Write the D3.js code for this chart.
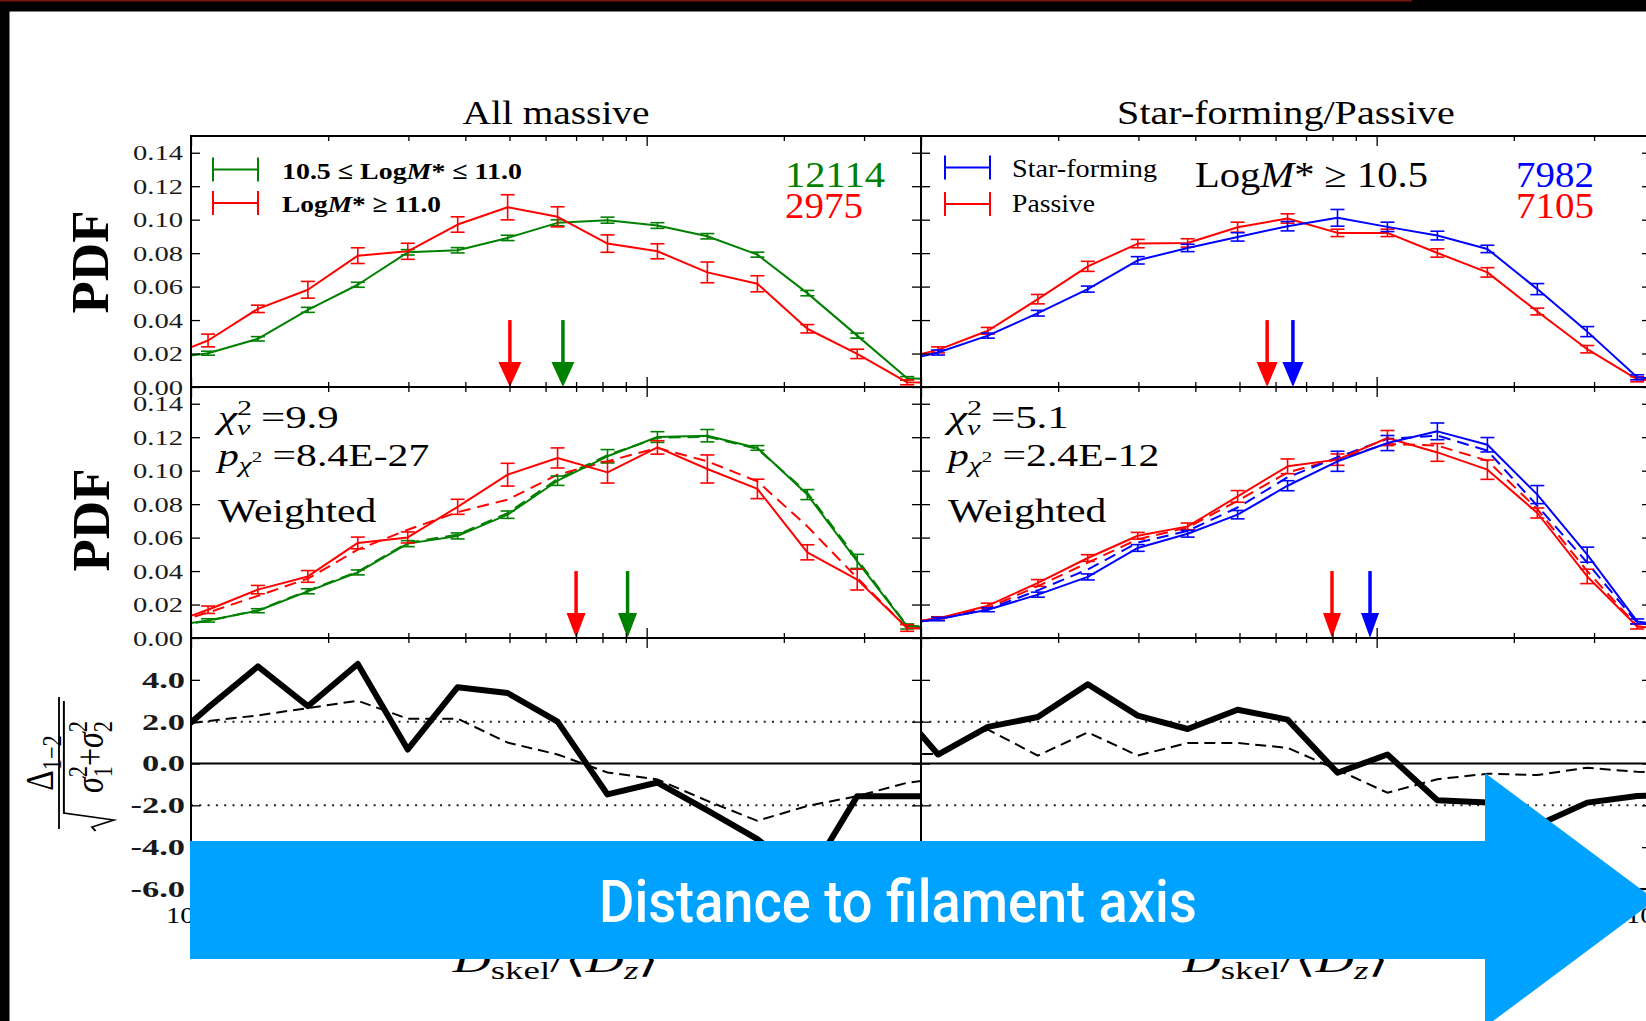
<!DOCTYPE html>
<html>
<head>
<meta charset="utf-8">
<title>Distance to filament axis</title>
<script src="https://cdn.jsdelivr.net/npm/d3@7"></script>
<style>
  html, body { margin: 0; padding: 0; background: #fff; overflow: hidden; }
  svg { display: block; }
</style>
</head>
<body>
<svg id="fig" width="1646" height="1021"></svg>
<script>
// ---------------------------------------------------------------------------
// Data
// ---------------------------------------------------------------------------

// Bin centres in D_skel / <D_z> (log-spaced; the first and last bins fall just
// outside the plotted range and are clipped by the axes)
const binCentres = [0.0847, 0.109, 0.1402, 0.1805, 0.2323, 0.299, 0.3848, 0.4953, 0.6375,
                    0.8205, 1.056, 1.359, 1.75, 2.252, 2.898, 3.73, 4.801];

// Axis ticks
const xMajorTicks = [0.1, 1];
const xMinorTicks = [0.2, 0.3, 0.4, 0.5, 0.6, 0.7, 0.8, 0.9, 2, 3];
const pdfTicks = [0, 0.02, 0.04, 0.06, 0.08, 0.10, 0.12, 0.14];
const sigTicks = [-6, -4, -2, 0, 2, 4];
const sigLevels = [-2, 2];

// All massive: 10.5 <= LogM* <= 11.0 (green) and LogM* >= 11.0 (red)
const midMassPdf  = [0.016, 0.0202, 0.0288, 0.0461, 0.0611, 0.0805, 0.0817, 0.0891, 0.0981, 0.0997, 0.0965, 0.0901, 0.0791, 0.0561, 0.0307, 0.0052, 0.0042];
const midMassErr  = [0.001, 0.0012, 0.0013, 0.0015, 0.0015, 0.0016, 0.0016, 0.0016, 0.0018, 0.0018, 0.0017, 0.0016, 0.0015, 0.0016, 0.0015, 0.0010, 0.0010];
const highMassPdf = [0.016, 0.0278, 0.0467, 0.0581, 0.0785, 0.0811, 0.0971, 0.1074, 0.1017, 0.0857, 0.0811, 0.0685, 0.0617, 0.0348, 0.0198, 0.0028, 0.0022];
const highMassErr = [0.003, 0.0038, 0.0022, 0.0050, 0.0047, 0.0048, 0.0046, 0.0075, 0.0060, 0.0052, 0.0045, 0.0062, 0.0048, 0.0025, 0.0028, 0.0015, 0.0010];

// All massive, weighted (solid) and reference curves (dashed)
const midMassWPdf  = [0.006, 0.0105, 0.0163, 0.0279, 0.0392, 0.0564, 0.0610, 0.0737, 0.0940, 0.1086, 0.1201, 0.1209, 0.1136, 0.0857, 0.0458, 0.0069, 0.0062];
const midMassWErr  = [0.001, 0.0010, 0.0012, 0.0015, 0.0015, 0.0018, 0.0018, 0.0022, 0.0028, 0.0040, 0.0032, 0.0037, 0.0014, 0.0030, 0.0042, 0.0015, 0.0010];
const midMassWRef  = [0.006, 0.0102, 0.0166, 0.0283, 0.0396, 0.0569, 0.0618, 0.0746, 0.0950, 0.1093, 0.1196, 0.1203, 0.1130, 0.0868, 0.0470, 0.0073, 0.0062];
const highMassWPdf = [0.0063, 0.0169, 0.0289, 0.0368, 0.0568, 0.0601, 0.0784, 0.0976, 0.1076, 0.0990, 0.1139, 0.1010, 0.0891, 0.0512, 0.0349, 0.0060, 0.0052];
const highMassWErr = [0.001, 0.0022, 0.0025, 0.0035, 0.0035, 0.0033, 0.0045, 0.0068, 0.0060, 0.0064, 0.0040, 0.0084, 0.0058, 0.0045, 0.0062, 0.0020, 0.0010];
const highMassWRef = [0.0065, 0.0152, 0.0252, 0.0355, 0.0528, 0.0647, 0.0752, 0.0827, 0.0976, 0.1056, 0.1136, 0.1056, 0.0936, 0.0667, 0.0359, 0.0060, 0.0052];

// Star-forming (blue) and passive (red), LogM* >= 10.5
const sfPdf   = [0.0135, 0.0206, 0.0307, 0.0441, 0.0585, 0.0757, 0.0831, 0.0897, 0.0961, 0.1011, 0.0957, 0.0905, 0.0825, 0.0585, 0.0331, 0.0058, 0.0030];
const sfErr   = [0.001, 0.0015, 0.0015, 0.0017, 0.0018, 0.0022, 0.0022, 0.0025, 0.0028, 0.0050, 0.0028, 0.0026, 0.0022, 0.0033, 0.0030, 0.0015, 0.0010];
const passPdf = [0.015, 0.0222, 0.0336, 0.0525, 0.0721, 0.0857, 0.0861, 0.0955, 0.1007, 0.0921, 0.0921, 0.0801, 0.0685, 0.0451, 0.0226, 0.0046, 0.0020];
const passErr = [0.001, 0.0018, 0.0020, 0.0028, 0.0030, 0.0025, 0.0025, 0.0030, 0.0028, 0.0022, 0.0022, 0.0025, 0.0028, 0.0020, 0.0022, 0.0015, 0.0010];

// Star-forming / passive, weighted (solid) and reference curves (dashed)
const sfWPdf   = [0.0072, 0.0113, 0.0169, 0.0259, 0.0365, 0.0538, 0.0623, 0.0737, 0.0910, 0.1056, 0.1165, 0.1235, 0.1155, 0.0857, 0.0498, 0.0099, 0.0050];
const sfWErr   = [0.001, 0.0010, 0.0012, 0.0015, 0.0018, 0.0020, 0.0020, 0.0025, 0.0030, 0.0060, 0.0045, 0.0050, 0.0043, 0.0054, 0.0045, 0.0015, 0.0010];
const sfWRef   = [0.0072, 0.0112, 0.0172, 0.0285, 0.0410, 0.0570, 0.0640, 0.0780, 0.0960, 0.1080, 0.1190, 0.1210, 0.1120, 0.0790, 0.0450, 0.0090, 0.0050];
const passWPdf = [0.0082, 0.0117, 0.0193, 0.0329, 0.0478, 0.0611, 0.0667, 0.0846, 0.1026, 0.1066, 0.1195, 0.1109, 0.1006, 0.0747, 0.0368, 0.0069, 0.0040];
const passWErr = [0.001, 0.0010, 0.0015, 0.0020, 0.0020, 0.0020, 0.0020, 0.0035, 0.0044, 0.0034, 0.0045, 0.0053, 0.0058, 0.0030, 0.0043, 0.0015, 0.0010];
const passWRef = [0.0082, 0.0115, 0.0180, 0.0310, 0.0450, 0.0590, 0.0660, 0.0820, 0.0990, 0.1070, 0.1160, 0.1150, 0.1060, 0.0770, 0.0400, 0.0070, 0.0040];

// Normalised difference between the two PDFs (thick: raw, dashed: weighted)
const massSig  = [0.6, 2.67, 4.64, 2.74, 4.76, 0.67, 3.65, 3.37, 2.0, -1.48, -0.91, -2.24, -3.62, -5.5, -1.56, -1.56, -1.6];
const massSigW = [1.74, 2.03, 2.3, 2.65, 3.0, 2.14, 2.14, 1.0, 0.43, -0.43, -0.76, -1.79, -2.74, -2.03, -1.56, -0.92, -0.63];
const typeSig  = [3.2, 0.43, 1.75, 2.22, 3.79, 2.29, 1.65, 2.57, 2.1, -0.44, 0.43, -1.76, -1.87, -2.95, -1.87, -1.55, -1.5];
const typeSigW = [0.45, 0.45, 1.62, 0.38, 1.49, 0.38, 0.98, 0.98, 0.75, -0.3, -1.4, -0.75, -0.49, -0.55, -0.2, -0.4, -0.45];

// Medians (arrows): [first sample, second sample]
const massMedians  = [0.655, 0.501];
const massMediansW = [0.908, 0.700];
const typeMedians  = [0.655, 0.575];
const typeMediansW = [0.967, 0.798];

// Sample sizes and test statistics
const massCounts = [12114, 2975];
const typeCounts = [7982, 7105];
const chi2Values = ['9.9', '5.1'];
const pValues = ['8.4E-27', '2.4E-12'];

// ---------------------------------------------------------------------------
// Layout and scales
// ---------------------------------------------------------------------------
const SERIF = '"Liberation Serif", "Times New Roman", serif';
const GREEN = '#008000', RED = '#ff0000', BLUE = '#0000ff';

// Column left edges; the third column of the figure continues past the slide edge
const colLeft = [191, 921, 1651], panelW = 730;
const rowTop = [136, 387, 638], rowH = 251;

const xScale = colLeft.map(l => d3.scaleLog().domain([0.1, 4]).range([l, l + panelW]));
const pdfScale = [0, 1].map(r => d3.scaleLinear().domain([0, 0.15]).range([rowTop[r] + rowH, rowTop[r]]));
const sigScale = d3.scaleLinear().domain([-6, 6]).range([rowTop[2] + rowH, rowTop[2]]);

// Banner arrow geometry (drawn over the bottom axis)
const banner = { x0: colLeft[0] - 1, x1: 1485, y0: 841, y1: 959, headTop: 773, tip: 1655.5 };
const underBanner = px => px > banner.x0 + 4 && px < banner.x1;

const svg = d3.select('#fig');
svg.append('rect').attr('width', 1646).attr('height', 1021).attr('fill', '#fff');
const defs = svg.append('defs');

function panelClip(col, row) {
  const id = `clip-${col}-${row}`;
  defs.append('clipPath').attr('id', id).append('rect')
    .attr('x', colLeft[col]).attr('y', rowTop[row]).attr('width', panelW).attr('height', rowH);
  return `url(#${id})`;
}

// Text with italic parts, sub- and superscripts; optionally stretched to a width
const scriptStyles = {
  '':    { s: 1,   shift: 0 },
  'i':   { s: 1,   shift: 0, it: true },
  '^':   { s: 0.7, shift: 0.42 },
  '_':   { s: 0.7, shift: -0.2 },
  'i^':  { s: 0.7, shift: 0.42, it: true },
  'i_':  { s: 0.7, shift: -0.2, it: true },
  'i_<': { s: 0.7, shift: -0.24, it: true, back: true },
  '_<':  { s: 0.7, shift: -0.24, back: true },
  '_^':  { s: 0.5, shift: 0.1 }
};
function rich(parent, x, y, parts, o) {
  const size = o.size;
  const g = parent.append('g');
  const t = g.append('text')
    .attr('font-family', o.family || SERIF)
    .attr('font-size', size)
    .attr('font-weight', o.weight || 'normal')
    .attr('fill', o.color || '#000')
    .attr('text-anchor', o.anchor || 'start');
  let cur = 0, prevLen = 0;
  parts.forEach(([str, code = '']) => {
    const st = scriptStyles[code];
    const ts = t.append('tspan').text(str).attr('dy', (cur - st.shift) * size);
    cur = st.shift;
    if (st.s !== 1) ts.attr('font-size', size * st.s);
    if (st.it) ts.attr('font-style', 'italic');
    if (st.back) ts.attr('dx', -prevLen);
    prevLen = ts.node().getComputedTextLength();
  });
  let sx = o.sx || 1;
  if (o.width) sx = o.width / t.node().getBBox().width;
  g.attr('transform', `translate(${x},${y}) scale(${sx},1)` + (o.rotate ? ` rotate(${o.rotate})` : ''));
  return g;
}

// ---------------------------------------------------------------------------
// Marks
// ---------------------------------------------------------------------------
function drawPdf(g, xS, yS, values, errors, colour, dash) {
  const pts = binCentres.map((b, i) => ({ b, v: values[i], e: errors ? errors[i] : 0 }));
  g.append('path').datum(pts)
    .attr('d', d3.line().x(d => xS(d.b)).y(d => yS(d.v)))
    .attr('fill', 'none').attr('stroke', colour).attr('stroke-width', 2)
    .attr('stroke-linejoin', 'round')
    .attr('stroke-dasharray', dash || null);
  if (!errors) return;
  const bars = g.append('g').attr('stroke', colour).attr('stroke-width', 1.6)
    .selectAll('g').data(pts).join('g')
    .attr('transform', d => `translate(${xS(d.b)},0)`);
  bars.append('line').attr('y1', d => yS(d.v - d.e)).attr('y2', d => yS(d.v + d.e));
  bars.append('line').attr('x1', -7).attr('x2', 7)
    .attr('y1', d => yS(d.v - d.e)).attr('y2', d => yS(d.v - d.e));
  bars.append('line').attr('x1', -7).attr('x2', 7)
    .attr('y1', d => yS(d.v + d.e)).attr('y2', d => yS(d.v + d.e));
}

function drawMedian(g, xS, yS, value, colour, headW) {
  const cx = xS(value);
  g.append('line').attr('x1', cx).attr('x2', cx).attr('y1', yS(0.04)).attr('y2', yS(0.013))
    .attr('stroke', colour).attr('stroke-width', 3.5);
  g.append('path')
    .attr('d', `M${cx - headW / 2},${yS(0.015)}L${cx + headW / 2},${yS(0.015)}L${cx},${yS(0)}Z`)
    .attr('fill', colour);
}

function drawAxes(col, row, yS, yTicks, fmt, lab) {
  const xS = xScale[col], l = colLeft[col], r = l + panelW;
  const top = rowTop[row], bot = top + rowH;
  const ax = svg.append('g');
  const tidy = g => {
    g.select('.domain').remove();
    g.selectAll('line').attr('stroke', '#000').attr('stroke-width', 1.3);
  };
  [[d3.axisBottom, bot], [d3.axisTop, top]].forEach(([mk, y]) => {
    ax.append('g').attr('transform', `translate(0,${y})`)
      .call(mk(xS).tickValues(xMajorTicks).tickSize(-10).tickSizeOuter(0).tickFormat('')).call(tidy);
    ax.append('g').attr('transform', `translate(0,${y})`)
      .call(mk(xS).tickValues(xMinorTicks).tickSize(-5).tickSizeOuter(0).tickFormat('')).call(tidy);
  });
  const gl = ax.append('g').attr('transform', `translate(${l},0)`)
    .call(d3.axisLeft(yS).tickValues(yTicks).tickSize(-9).tickSizeOuter(0)
      .tickPadding(lab.pad).tickFormat(col === 0 ? fmt : ''))
    .call(tidy);
  gl.selectAll('text')
    .attr('font-family', SERIF).attr('font-size', lab.size).attr('font-weight', lab.weight)
    .attr('fill', '#1a1a1a')
    .attr('x', -lab.pad / lab.sx).attr('transform', `scale(${lab.sx},1)`);
  if (col !== 0) gl.selectAll('text').remove();
  ax.append('g').attr('transform', `translate(${r},0)`)
    .call(d3.axisRight(yS).tickValues(yTicks).tickSize(-9).tickSizeOuter(0).tickFormat(''))
    .call(tidy);
  ax.selectAll('text').filter(function () { return !this.textContent; }).remove();
  ax.append('rect').attr('x', l).attr('y', top).attr('width', panelW).attr('height', rowH)
    .attr('fill', 'none').attr('stroke', '#000').attr('stroke-width', 2);
}

function legendHandle(g, x0, y, colour) {
  const h = g.append('g').attr('stroke', colour).attr('stroke-width', 2);
  h.append('line').attr('x1', x0).attr('x2', x0 + 45).attr('y1', y).attr('y2', y);
  [x0, x0 + 45].forEach(xx => {
    h.append('line').attr('x1', xx).attr('x2', xx).attr('y1', y - 12).attr('y2', y + 12);
  });
}

// ---------------------------------------------------------------------------
// Upper two rows: PDFs
// ---------------------------------------------------------------------------
const pdfPanels = [
  { col: 0, row: 0, curves: [[midMassPdf, midMassErr, GREEN], [highMassPdf, highMassErr, RED]],
    medians: [[massMedians[0], GREEN], [massMedians[1], RED]], head: 23 },
  { col: 0, row: 1, refs: [[midMassWRef, GREEN], [highMassWRef, RED]],
    curves: [[midMassWPdf, midMassWErr, GREEN], [highMassWPdf, highMassWErr, RED]],
    medians: [[massMediansW[0], GREEN], [massMediansW[1], RED]], head: 19 },
  { col: 1, row: 0, curves: [[passPdf, passErr, RED], [sfPdf, sfErr, BLUE]],
    medians: [[typeMedians[0], BLUE], [typeMedians[1], RED]], head: 21 },
  { col: 1, row: 1, refs: [[passWRef, RED], [sfWRef, BLUE]],
    curves: [[passWPdf, passWErr, RED], [sfWPdf, sfWErr, BLUE]],
    medians: [[typeMediansW[0], BLUE], [typeMediansW[1], RED]], head: 18 }
];

pdfPanels.forEach(p => {
  const xS = xScale[p.col], yS = pdfScale[p.row];
  const g = svg.append('g').attr('clip-path', panelClip(p.col, p.row));
  (p.refs || []).forEach(([v, c]) => drawPdf(g, xS, yS, v, null, c, '12,7'));
  p.curves.forEach(([v, e, c]) => drawPdf(g, xS, yS, v, e, c));
  p.medians.forEach(([m, c]) => drawMedian(g, xS, yS, m, c, p.head));
  drawAxes(p.col, p.row, yS, pdfTicks, d3.format('.2f'), { pad: 8, size: 22, weight: 'normal', sx: 1.3 });
});

// ---------------------------------------------------------------------------
// Bottom row: significance of the difference
// ---------------------------------------------------------------------------
[[massSig, massSigW], [typeSig, typeSigW]].forEach(([raw, weighted], col) => {
  const xS = xScale[col];
  const g = svg.append('g').attr('clip-path', panelClip(col, 2));
  const l = colLeft[col], r = l + panelW;
  sigLevels.forEach(lv => {
    g.append('line').attr('x1', l).attr('x2', r).attr('y1', sigScale(lv)).attr('y2', sigScale(lv))
      .attr('stroke', '#222').attr('stroke-width', 2).attr('stroke-dasharray', '2,6.3');
  });
  g.append('line').attr('x1', l).attr('x2', r).attr('y1', sigScale(0)).attr('y2', sigScale(0))
    .attr('stroke', '#000').attr('stroke-width', 2);
  const line = d3.line().x((d, i) => xS(binCentres[i])).y(d => sigScale(d));
  g.append('path').datum(weighted).attr('d', line).attr('fill', 'none')
    .attr('stroke', '#000').attr('stroke-width', 2).attr('stroke-dasharray', '11,6');
  g.append('path').datum(raw).attr('d', line).attr('fill', 'none')
    .attr('stroke', '#000').attr('stroke-width', 6).attr('stroke-linejoin', 'round');
  drawAxes(col, 2, sigScale, sigTicks, d => d.toFixed(1), { pad: 6, size: 23, weight: 'bold', sx: 1.5 });
  // x-axis title
  rich(svg, l + panelW / 2, 972,
    [['D', 'i'], ['skel', '_'], ['/\u27E8'], ['D', 'i'], ['z', 'i_'], ['\u27E9']],
    { size: 36, anchor: 'middle', width: 207 });
});

// Decade labels along the bottom axis (those under the banner stay hidden)
xScale.forEach(xS => {
  xMajorTicks.forEach(t => {
    const px = xS(t);
    if (underBanner(px) || px > 1700) return;
    rich(svg, px, 923, [['10'], [t === 1 ? '0' : '\u22121', '^']], { size: 23, anchor: 'middle', sx: 1.25 });
  });
});

// ---------------------------------------------------------------------------
// Titles, legends and annotations
// ---------------------------------------------------------------------------
rich(svg, colLeft[0] + panelW / 2, 124, [['All massive']], { size: 33, anchor: 'middle', width: 187 });
rich(svg, colLeft[1] + panelW / 2, 124, [['Star-forming/Passive']], { size: 33, anchor: 'middle', width: 338 });

// y-axis titles
rich(svg, 108, 262, [['PDF']], { size: 53, weight: 'bold', anchor: 'middle', rotate: -90 });
rich(svg, 109, 520, [['PDF']], { size: 53, weight: 'bold', anchor: 'middle', rotate: -90 });
const frac = svg.append('g').attr('transform', 'translate(59,763) scale(1.22,1) rotate(-90)');
frac.append('line').attr('x1', -66).attr('x2', 66).attr('y1', 0).attr('y2', 0)
  .attr('stroke', '#000').attr('stroke-width', 1.5);
rich(frac, 0, -5, [['\u0394'], ['1\u22122', '_']], { size: 32, anchor: 'middle' });
frac.append('path').attr('d', 'M-68,30L-64,27L-57,45L-50,4L62,4')
  .attr('fill', 'none').attr('stroke', '#000').attr('stroke-width', 1.6);
rich(frac, 6, 36, [['\u03C3', 'i'], ['2', '^'], ['1', '_<'], ['+'], ['\u03C3', 'i'], ['2', '^'], ['2', '_<']],
  { size: 32, anchor: 'middle' });

// Legends: all massive
legendHandle(svg, colLeft[0] + 22, 169.5, GREEN);
legendHandle(svg, colLeft[0] + 22, 203, RED);
rich(svg, colLeft[0] + 91, 178.5, [['10.5 \u2264 Log'], ['M', 'i'], ['*'], [' \u2264 11.0']],
  { size: 24, weight: 'bold', width: 240 });
rich(svg, colLeft[0] + 91, 211.7, [['Log'], ['M', 'i'], ['*'], [' \u2265 11.0']],
  { size: 24, weight: 'bold', width: 159 });
rich(svg, colLeft[0] + 594, 186.7, [[String(massCounts[0])]], { size: 36, color: GREEN, width: 100 });
rich(svg, colLeft[0] + 594, 218.3, [[String(massCounts[1])]], { size: 36, color: RED, width: 78 });

// Legends: star-forming / passive
legendHandle(svg, colLeft[1] + 24, 167.5, BLUE);
legendHandle(svg, colLeft[1] + 24, 204, RED);
rich(svg, colLeft[1] + 91, 176.7, [['Star-forming']], { size: 26, width: 145 });
rich(svg, colLeft[1] + 91, 211.7, [['Passive']], { size: 26, width: 83 });
rich(svg, colLeft[1] + 274, 186.7, [['Log'], ['M', 'i'], ['*'], [' \u2265 10.5']], { size: 36, width: 233 });
rich(svg, colLeft[1] + 595, 186.7, [[String(typeCounts[0])]], { size: 36, color: BLUE, width: 78 });
rich(svg, colLeft[1] + 595, 218.3, [[String(typeCounts[1])]], { size: 36, color: RED, width: 78 });

// Weighted-sample statistics
[0, 1].forEach(col => {
  const x0 = colLeft[col] + 27;
  rich(svg, x0, 428, [['\u03C7', 'i'], ['2', '^'], ['\u03BD', 'i_<'], [' =' + chi2Values[col]]],
    { size: 31, width: 125 });
  rich(svg, x0, 465.5, [['p', 'i'], ['\u03C7', 'i_'], ['2', '_^'], [' =' + pValues[col]]],
    { size: 31, width: 214 });
  rich(svg, x0, 521.7, [['Weighted']], { size: 33, width: 159 });
});

// ---------------------------------------------------------------------------
// Banner arrow and slide frame
// ---------------------------------------------------------------------------
const bannerG = svg.append('g');
bannerG.append('path')
  .attr('d', `M${banner.x0},${banner.y0}H${banner.x1}V${banner.headTop}` +
             `L${banner.tip},${(banner.y0 + banner.y1) / 2}` +
             `L${banner.x1},${banner.y0 + banner.y1 - banner.headTop}V${banner.y1}H${banner.x0}Z`)
  .attr('fill', '#00a2ff');
rich(bannerG, 599, 921.6, [['Distance to filament axis']],
  { family: 'Roboto, "Open Sans", sans-serif', size: 59, weight: 500, color: '#fff', width: 598 });

svg.append('rect').attr('x', 0).attr('y', 0).attr('width', 1646).attr('height', 11.5).attr('fill', '#000');
svg.append('rect').attr('x', 0).attr('y', 0).attr('width', 9.5).attr('height', 1021).attr('fill', '#000');
svg.append('rect').attr('x', 0).attr('y', 0).attr('width', 1412).attr('height', 1.5).attr('fill', '#7a1010');
</script>
</body>
</html>
